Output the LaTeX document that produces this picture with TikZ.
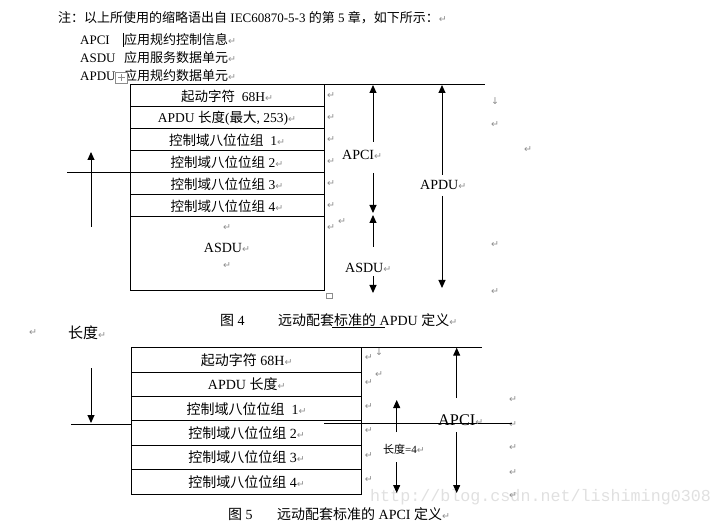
\documentclass[tikz,border=0pt]{standalone}
\usepackage{fontspec}
\usepackage{xcolor}
\usetikzlibrary{arrows.meta,positioning}
\setmainfont{Liberation Serif}
\newfontfamily\cjk{Noto Sans CJK SC}
\newfontfamily\symfont{DejaVu Sans}
\newfontfamily\wmfont{Liberation Mono}
\definecolor{MarkGray}{HTML}{8C8C8C}
\definecolor{WaterGray}{HTML}{E0E0E0}
\newcommand{\zh}[1]{{\cjk #1}}
\newcommand{\parmark}{{\color{MarkGray}\symfont\fontsize{9.5}{9.5}\selectfont ↵}}
\newcommand{\brkmark}{{\color{MarkGray}\symfont\fontsize{9.5}{9.5}\selectfont ↓}}

\begin{document}
\begin{tikzpicture}[x=1pt, y=-1pt,
    cellA/.style={draw, line width=1pt, outer sep=0pt, minimum width=194pt, minimum height=22pt, inner sep=0pt, font=\fontsize{13.5}{15}\selectfont},
    cellB/.style={draw, line width=1pt, outer sep=0pt, minimum width=230pt, minimum height=24.4pt, inner sep=0pt, font=\fontsize{14}{16}\selectfont},
    note/.style={anchor=west, inner sep=0pt, font=\fontsize{13}{15}\selectfont},
    lbl/.style={anchor=west, inner sep=0pt, font=\fontsize{14}{16}\selectfont},
    pmk/.style={anchor=west, inner sep=0pt},
    arr/.style={-{Triangle[width=7pt,length=8pt]}, line width=1pt},
    rule/.style={line width=1pt}]
    \useasboundingbox (0,0) rectangle (724,524);

    % Watermark
    \node[anchor=west, inner sep=0pt, WaterGray, font=\wmfont\fontsize{16.7}{18}\selectfont] (wm) at (370,497) {http://blog.csdn.net/lishiming0308};

    % Notes
    \node[note] (n1) at (58,18) {\zh{注：以上所使用的缩略语出自} IEC60870-5-3 \zh{的第} 5 \zh{章，如下所示：}\parmark};
    \node[note] (n2a) at (80,40) {APCI};
    \node[note] (n2b) at (124,40) {\zh{应用规约控制信息}\parmark};
    \draw[line width=0.6pt] (123,33) -- (123,47);
    \node[note] (n3a) at (80,58) {ASDU};
    \node[note] (n3b) at (124,58) {\zh{应用服务数据单元}\parmark};
    \node[note] (n4a) at (80,76) {APDU};
    \node[note] (n4b) at (124,76) {\zh{应用规约数据单元}\parmark};
    \draw[MarkGray, fill=white, line width=0.5pt] (115.5,72.5) rectangle (127.5,83);
    \draw[MarkGray, line width=0.5pt] (121.5,74.5) -- (121.5,81) (118,77.7) -- (125,77.7);

    % Figure 4: APDU
    \node[cellA, anchor=north west] (f4r1) at (130,85) {\zh{起动字符}\ \ 68H\parmark};
    \node[cellA, below=0pt of f4r1] (f4r2) {APDU \zh{长度}(\zh{最大}, 253)\parmark};
    \node[cellA, below=0pt of f4r2] (f4r3) {\zh{控制域八位位组}\ \ 1\parmark};
    \node[cellA, below=0pt of f4r3] (f4r4) {\zh{控制域八位位组} 2\parmark};
    \node[cellA, below=0pt of f4r4] (f4r5) {\zh{控制域八位位组} 3\parmark};
    \node[cellA, below=0pt of f4r5] (f4r6) {\zh{控制域八位位组} 4\parmark};
    \node[cellA, below=0pt of f4r6, minimum height=74pt] (f4asdu) {};
    \node[lbl, anchor=center] (f4asdutxt) at ([yshift=6pt]f4asdu.center) {ASDU\parmark};
    \node[pmk, anchor=center] at ([yshift=26pt]f4asdu.center) {\parmark};
    \node[pmk, anchor=center] at ([yshift=-12pt]f4asdu.center) {\parmark};
    \foreach \r in {f4r1,f4r2,f4r3,f4r4,f4r5,f4r6,f4asdu}
        \node[pmk] at ([xshift=3pt,yshift=-11pt]\r.north east) {\parmark};
    \node[pmk] at (338,222) {\parmark};
    \draw[MarkGray, line width=0.5pt] (326.5,293) rectangle (332,298.5);

    % side marks
    \node[pmk] at (491,101) {\brkmark};
    \node[pmk] at (491,125) {\parmark};
    \node[pmk] at (524,150) {\parmark};
    \node[pmk] at (491,245) {\parmark};
    \node[pmk] at (491,292) {\parmark};

    % dimension lines
    \draw[rule] (f4r1.north east) -- (485,85);
    \coordinate (f4left) at (67,173);
    \draw[rule] (f4left) -- (f4r5.north west);
    \coordinate (f4vb) at (91,227);
    \coordinate (f4vt) at (91,152);
    \draw[arr] (f4vb) -- (f4vt);

    \node[lbl] (apci4) at (342,155) {APCI\parmark};
    \coordinate (apci4a) at (373,142);
    \coordinate (apci4t) at (373,85);
    \coordinate (apci4b) at (373,173);
    \coordinate (apci4e) at (373,213);
    \draw[arr] (apci4a) -- (apci4t);
    \draw[arr] (apci4b) -- (apci4e);

    \node[lbl] (asdu4) at (345,268) {ASDU\parmark};
    \coordinate (asdu4a) at (373,247);
    \coordinate (asdu4t) at (373,215);
    \coordinate (asdu4b) at (373,276);
    \coordinate (asdu4e) at (373,293);
    \draw[arr] (asdu4a) -- (asdu4t);
    \draw[arr] (asdu4b) -- (asdu4e);

    \node[lbl] (apdu4) at (420,185) {APDU\parmark};
    \coordinate (apdu4a) at (442,175);
    \coordinate (apdu4t) at (442,85);
    \coordinate (apdu4b) at (442,196);
    \coordinate (apdu4e) at (442,288);
    \draw[arr] (apdu4a) -- (apdu4t);
    \draw[arr] (apdu4b) -- (apdu4e);

    % caption 4
    \node[lbl] (cap4a) at (220,320) {\zh{图} 4};
    \node[lbl] (cap4b) at (278,320) {\zh{远动配套标准的} APDU \zh{定义}\parmark};
    \draw[line width=0.7pt] (332,327) -- (385,327);

    % Figure 5: APCI
    \node[pmk] at (29,333) {\parmark};
    \node[anchor=west, inner sep=0pt, font=\fontsize{15}{17}\selectfont] (len5) at (68,333) {\zh{长度}\parmark};

    \node[cellB, anchor=north west] (f5r1) at (131.7,347.7) {\zh{起动字符} 68H\parmark};
    \node[cellB, below=0pt of f5r1] (f5r2) {APDU \zh{长度}\parmark};
    \node[cellB, below=0pt of f5r2] (f5r3) {\zh{控制域八位位组}\ \ 1\parmark};
    \node[cellB, below=0pt of f5r3] (f5r4) {\zh{控制域八位位组} 2\parmark};
    \node[cellB, below=0pt of f5r4] (f5r5) {\zh{控制域八位位组} 3\parmark};
    \node[cellB, below=0pt of f5r5] (f5r6) {\zh{控制域八位位组} 4\parmark};
    \foreach \r in {f5r1,f5r2,f5r3,f5r4,f5r5,f5r6}
        \node[pmk] at ([xshift=3pt,yshift=-10pt]\r.north east) {\parmark};
    \node[pmk] at (375,352) {\brkmark};
    \node[pmk] at (375,375) {\parmark};
    \foreach \y in {400,425,448,473,496}
        \node[pmk] at (509,\y) {\parmark};

    \draw[rule] (f5r1.north east) -- (482,347.7);
    \draw[rule] (324,423.3) -- (512,423.3);
    \coordinate (f5left) at (71,424);
    \draw[rule] (f5left) -- (131.7,424);
    \coordinate (f5vt) at (91,368);
    \coordinate (f5vb) at (91,423);
    \draw[arr] (f5vt) -- (f5vb);

    \node[anchor=west, inner sep=0pt, font=\fontsize{16.3}{18}\selectfont] (apci5) at (438,420) {APCI\parmark};
    \coordinate (apci5a) at (456.7,398);
    \coordinate (apci5t) at (456.7,347.7);
    \coordinate (apci5b) at (456.7,432);
    \coordinate (apci5e) at (456.7,493);
    \draw[arr] (apci5a) -- (apci5t);
    \draw[arr] (apci5b) -- (apci5e);

    \node[anchor=west, inner sep=0pt, font=\fontsize{11}{13}\selectfont] (len4) at (383,449) {\zh{长度}=4\parmark};
    \coordinate (len4a) at (396.7,432);
    \coordinate (len4t) at (396.7,400);
    \coordinate (len4b) at (396.7,462);
    \coordinate (len4e) at (396.7,493);
    \draw[arr] (len4a) -- (len4t);
    \draw[arr] (len4b) -- (len4e);

    % caption 5
    \node[lbl] (cap5a) at (228,514) {\zh{图} 5};
    \node[lbl] (cap5b) at (277,514) {\zh{远动配套标准的} APCI \zh{定义}\parmark};
\end{tikzpicture}
\end{document}
